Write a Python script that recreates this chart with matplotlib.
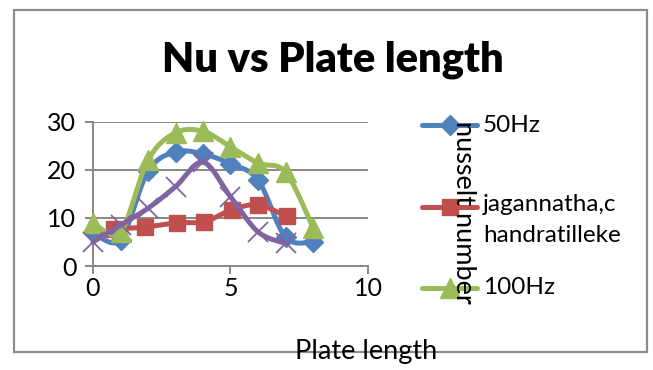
import numpy as np
import matplotlib.pyplot as plt
from matplotlib.lines import Line2D
from matplotlib.patches import Rectangle

# plate position and Nusselt number for each series
x_50 = [0, 1, 2, 3, 4, 5, 6, 7, 8]
nu_50 = [7.0, 5.5, 19.7, 23.7, 23.3, 21.2, 17.9, 6.0, 5.0]

x_jc = [0.76, 1.9, 3.05, 4.05, 5.05, 6.0, 7.05]
nu_jc = [7.7, 8.1, 9.0, 9.2, 11.7, 12.7, 10.3]

x_100 = [0, 1, 2, 3, 4, 5, 6, 7, 8]
nu_100 = [9.0, 7.1, 22.0, 27.7, 28.0, 24.8, 21.4, 19.5, 8.0]

x_4 = [0, 1, 2, 3, 4, 5, 6, 7]
nu_4 = [5.0, 8.5, 12.0, 16.5, 21.6, 14.4, 7.1, 4.7]

FONT = 'Lato'
GRID = '#878787'
BODY = 17.5


def smooth(x, y, n=24):
    # Catmull-Rom style bezier through the points (like a spreadsheet "smoothed line")
    p = np.column_stack([x, y]).astype(float)
    p = np.vstack([p[0], p, p[-1]])
    out = []
    for i in range(1, len(p) - 2):
        p0, p1, p2, p3 = p[i - 1], p[i], p[i + 1], p[i + 2]
        b1 = p1 + (p2 - p0) / 6
        b2 = p2 - (p3 - p1) / 6
        t = np.linspace(0, 1, n)[:, None]
        seg = ((1 - t) ** 3) * p1 + 3 * ((1 - t) ** 2) * t * b1 + 3 * (1 - t) * t ** 2 * b2 + t ** 3 * p2
        out.append(seg if i == 1 else seg[1:])
    c = np.vstack(out)
    return c[:, 0], c[:, 1]


series = [
    (x_50, nu_50, '#4F81BD', dict(marker='D', ms=10)),
    (x_jc, nu_jc, '#C0504D', dict(marker='s', ms=12)),
    (x_100, nu_100, '#9BBB59', dict(marker='^', ms=14)),
    (x_4, nu_4, '#8064A2', dict(marker='x', ms=14, mew=1.3)),
]

fig = plt.figure(figsize=(6.53, 3.70), dpi=100)
ax = fig.add_axes([93 / 653, 1 - 266 / 370, 275 / 653, 144.3 / 370])

for i, (xs, ys, col, mk) in enumerate(series):
    sx, sy = smooth(xs, ys)
    ax.plot(sx, sy, color=col, lw=3.6, solid_capstyle='round', zorder=3 + i, clip_on=False)
    ax.plot(xs, ys, ls='none', color=col, mec=col, zorder=3 + i, clip_on=False, **mk)

ax.set_xlim(0, 10)
ax.set_ylim(0, 30)
ax.set_xticks([0, 5, 10])
ax.set_yticks([0, 10, 20, 30])
ax.yaxis.grid(True, color=GRID, lw=1.4)
ax.set_axisbelow(True)
for s in ['top', 'right']:
    ax.spines[s].set_visible(False)
for s in ['left', 'bottom']:
    ax.spines[s].set_color(GRID)
    ax.spines[s].set_linewidth(1.4)
ax.tick_params(colors=GRID, length=6, width=1.4, labelcolor='black', labelsize=18)
ax.tick_params(axis='x', pad=2)
ax.tick_params(axis='y', pad=6)
for lab in ax.get_xticklabels() + ax.get_yticklabels():
    lab.set_fontfamily(FONT)

# chart frame
fig.add_artist(Rectangle((14 / 653, 1 - 352 / 370), 633 / 653, 342 / 370,
                         transform=fig.transFigure, fill=False, ec='#8C8C8C', lw=1.6))

fig.text(333 / 653, 1 - 60 / 370, 'Nu vs Plate length', ha='center', va='center',
         fontsize=30, fontweight='heavy', family=FONT)
fig.text(366 / 653, 1 - 352 / 370, 'Plate length', ha='center', va='center',
         fontsize=19.5, family=FONT)

# legend entries
legend_items = [
    (125, 0, '50Hz'),
    (207, 1, 'jagannatha,c\nhandratilleke'),
    (288, 2, '100Hz'),
]
for ypx, idx, label in legend_items:
    _, _, col, mk = series[idx]
    yf = 1 - ypx / 370
    fig.add_artist(Line2D([422 / 653, 477 / 653], [yf, yf], transform=fig.transFigure,
                          color=col, lw=3.6, solid_capstyle='round'))
    fig.add_artist(Line2D([449.5 / 653], [yf], transform=fig.transFigure,
                          color=col, mec=col, ls='none', **mk))
    if '\n' in label:
        fig.text(483 / 653, 1 - (ypx - 13) / 370, label, ha='left', va='top',
                 fontsize=BODY, family=FONT, linespacing=1.6)
    else:
        fig.text(483 / 653, yf, label, ha='left', va='center', fontsize=BODY, family=FONT)

fig.text(463 / 653, 1 - 212 / 370, 'nusselt number', rotation=270, ha='center', va='center',
         fontsize=19.5, family=FONT)

fig.savefig('out.png', dpi=100)
